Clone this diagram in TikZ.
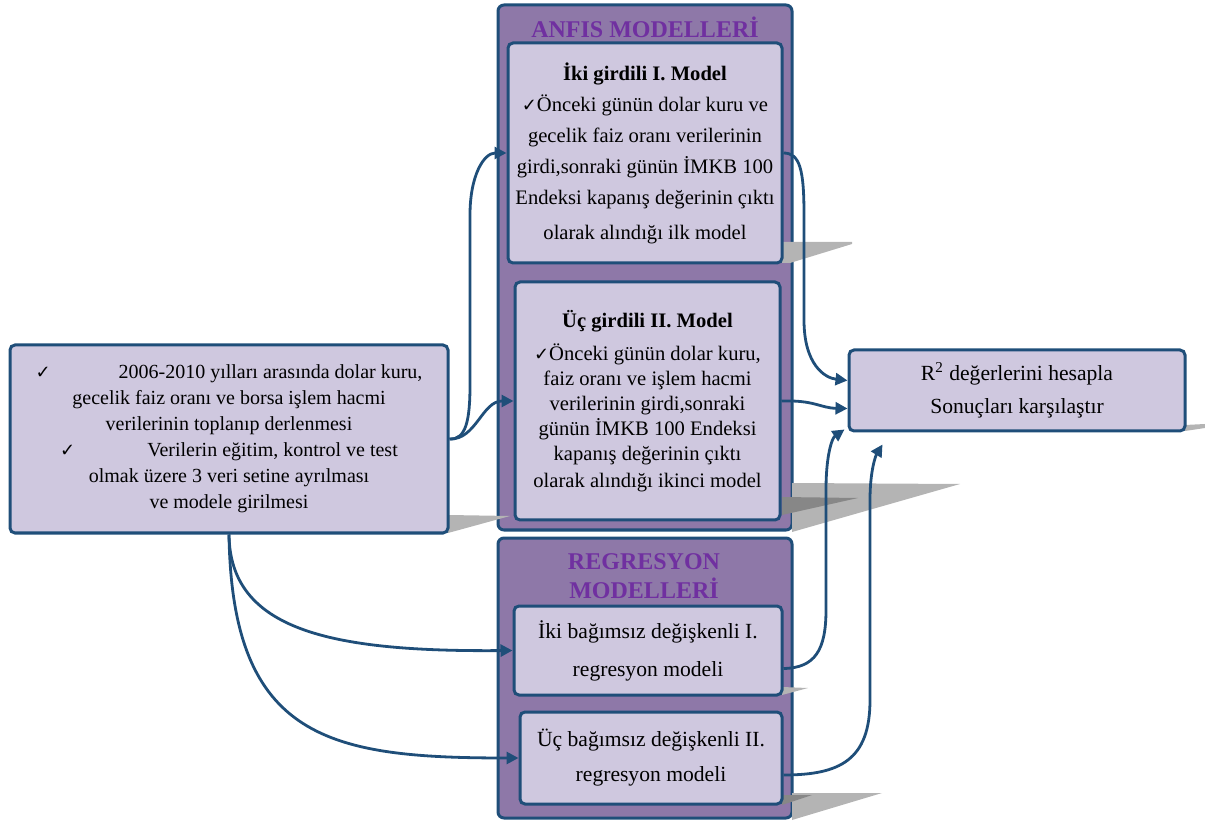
\documentclass[tikz,border=0pt]{standalone}
\usepackage{fontspec}
\setmainfont{Liberation Serif}
\newfontfamily\symfont{DejaVu Sans}
\usetikzlibrary{arrows.meta, positioning, calc}
\definecolor{kenarRenk}{HTML}{1F4E79}
\definecolor{kutuRenk}{HTML}{CFC8DF}
\definecolor{panelRenk}{HTML}{8E78A8}
\definecolor{baslikRenk}{HTML}{7030A0}
\definecolor{golgeRenk}{HTML}{B4B4B4}
\newcommand{\tik}{{\symfont\fontsize{9}{9}\selectfont ✓}}

\begin{document}
\begin{tikzpicture}[x=0.5pt, y=-0.5pt,
    kutu/.style={draw=kenarRenk, line width=1.5pt, fill=kutuRenk, rounded corners=2.5pt, align=center, inner sep=0pt, font=\fontsize{10.3}{15.5}\selectfont},
    panelkutu/.style={draw=kenarRenk, line width=1.5pt, fill=panelRenk, rounded corners=3pt, inner sep=0pt},
    baslik/.style={text=baslikRenk, align=center, font=\bfseries\fontsize{12}{14.5}\selectfont},
    golge/.style={fill=golgeRenk, draw=none},
    koyugolge/.style={fill=golgeRenk!75!black, draw=none},
    ok/.style={draw=kenarRenk, line width=1.4pt, -{Triangle[length=6pt,width=6pt]}}]
    \useasboundingbox (0,0) rectangle (1205,823);

    % paneller
    \node[panelkutu, minimum width=147pt, minimum height=262.5pt] (anfis) at (645,267.5) {};
    \node[panelkutu, minimum width=147pt, minimum height=140pt] (regresyon) at (645,678) {};
    \node[baslik] (anfisbaslik) at (645,27) {ANFIS MODELLERİ};
    \node[baslik] (regbaslik) at (644,576) {REGRESYON\\MODELLERİ};

    % golgeler
    \fill[golge] (448,515) -- (510,516) -- (448,533) -- cycle;
    \fill[golge] (782,242) -- (852,242) -- (852,244) -- (790,263) -- (782,263) -- cycle;
    \fill[golge] (792,483) -- (960,484) -- (792,532) -- cycle;
    \fill[koyugolge] (782,497) -- (858,498) -- (782,515) -- cycle;
    \fill[golge] (782,687) -- (808,688) -- (782,695) -- cycle;
    \fill[golge] (792,793) -- (882,793) -- (792,820) -- cycle;
    \fill[koyugolge] (782,795) -- (812,795) -- (782,805) -- cycle;
    \fill[golge] (1185,425) -- (1205,424) -- (1205,428) -- (1185,431) -- cycle;

    % kutular
    \node[kutu, minimum width=219pt, minimum height=94pt, font=\fontsize{10}{13}\selectfont] (veri) at (229,439) {\tik\hspace{34pt}2006-2010 yılları arasında dolar kuru,\\
        gecelik faiz oranı ve borsa işlem hacmi\\
        verilerinin toplanıp derlenmesi\\
        \tik\hspace{36pt}Verilerin eğitim, kontrol ve test\\
        olmak üzere 3 veri setine ayrılması\\
        ve modele girilmesi};
    \node[kutu, minimum width=137pt, minimum height=110pt] (model1) at (645,153) {\textbf{İki girdili I. Model}\\
        \tik Önceki günün dolar kuru ve\\
        gecelik faiz oranı verilerinin\\
        girdi,sonraki günün İMKB 100\\
        Endeksi kapanış değerinin çıktı\\[2pt]
        olarak alındığı ilk model};
    \node[kutu, minimum width=132.5pt, minimum height=119pt, font=\fontsize{10.3}{12.5}\selectfont] (model2) at (647.5,401) {\textbf{Üç girdili II. Model}\\[4pt]
        \tik Önceki günün dolar kuru,\\
        faiz oranı ve işlem hacmi\\
        verilerinin girdi,sonraki\\
        günün İMKB 100 Endeksi\\
        kapanış değerinin çıktı\\[1pt]
        olarak alındığı ikinci model};
    \node[kutu, minimum width=134pt, minimum height=44.5pt, font=\fontsize{10.8}{19}\selectfont] (reg1) at (648,650.5) {İki bağımsız değişkenli I.\\regresyon modeli};
    \node[kutu, minimum width=131pt, minimum height=46pt, font=\fontsize{10.8}{17.5}\selectfont] (reg2) at (651,758) {Üç bağımsız değişkenli II.\\regresyon modeli};
    \node[kutu, minimum width=168pt, minimum height=40.5pt, font=\fontsize{10.8}{16.5}\selectfont] (sonuc) at (1017,390.5) {R\textsuperscript{2} değerlerini hesapla\\Sonuçları karşılaştır};

    % oklar
    \draw[ok] (veri.east) .. controls (466,440) and (470,420) .. (470,385) -- (470,215) .. controls (470,175) and (484,153) .. (model1.west);
    \draw[ok] (veri.east) .. controls (476,440) and (482,401) .. (model2.west);
    \draw[ok] (veri.south) .. controls (230,630) and (330,652) .. (reg1.west);
    \draw[ok] (veri.south) .. controls (232,740) and (330,758) .. (reg2.west);
    \draw[ok] (model1.east) .. controls (800,153) and (804,170) .. (804,215) -- (804,320) .. controls (804,365) and (825,378) .. ([yshift=5pt]sonuc.west);
    \draw[ok] (model2.east) .. controls (815,400) and (820,408) .. ([yshift=-9pt]sonuc.west);
    \draw[ok] ([yshift=-9pt]reg1.east) .. controls (815,668) and (826,650) .. (826,610) -- (826,490) .. controls (826,455) and (832,438) .. ([shift={(-1.5pt,1.5pt)}]sonuc.south west);
    \draw[ok] ([yshift=-8.5pt]reg2.east) .. controls (840,775) and (870,760) .. (870,700) -- (870,500) .. controls (870,470) and (876,455) .. ([shift={(17.5pt,-6pt)}]sonuc.south west);
\end{tikzpicture}
\end{document}
